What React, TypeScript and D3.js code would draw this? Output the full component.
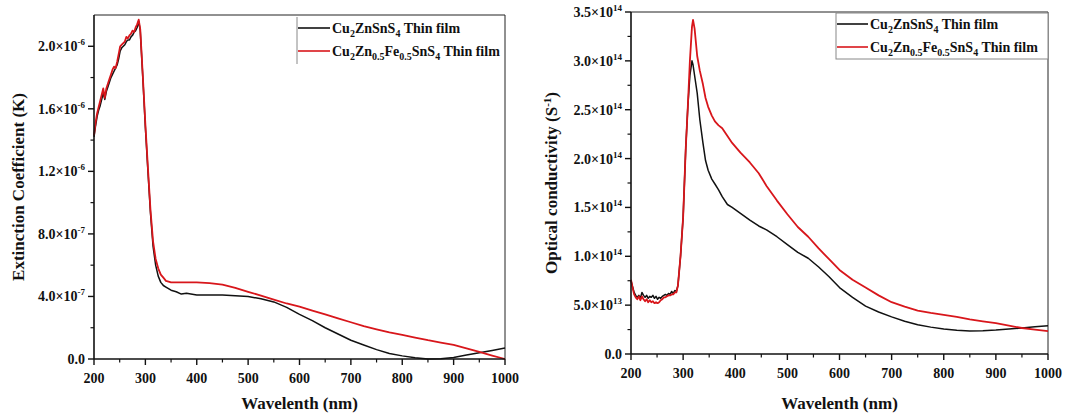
import React from "react";
import * as d3 from "d3";

// ---- Extinction coefficient (values in units of 1e-6) ----
const wlK = [200, 203, 206, 209, 212, 215, 218, 221, 224, 227, 230, 233, 236, 239, 242, 245, 248, 251, 254, 257, 260, 263, 266, 269, 272, 275, 278, 281, 284, 287, 290, 295, 300, 305, 310, 315, 320, 325, 330, 335, 340, 350, 360, 370, 380, 400, 425, 450, 475, 500, 525, 550, 575, 600, 625, 650, 675, 700, 725, 750, 775, 800, 825, 850, 875, 900, 925, 950, 975, 1000];
const kCzts = [1.42, 1.49, 1.55, 1.59, 1.62, 1.66, 1.70, 1.66, 1.71, 1.74, 1.77, 1.80, 1.82, 1.84, 1.86, 1.88, 1.92, 1.97, 1.99, 2.00, 2.01, 2.03, 2.04, 2.04, 2.06, 2.07, 2.09, 2.10, 2.12, 2.16, 2.10, 1.80, 1.48, 1.20, 0.93, 0.72, 0.60, 0.53, 0.49, 0.47, 0.46, 0.44, 0.43, 0.415, 0.42, 0.41, 0.41, 0.41, 0.405, 0.40, 0.385, 0.365, 0.33, 0.285, 0.245, 0.20, 0.16, 0.12, 0.09, 0.06, 0.035, 0.02, 0.008, 0.0, 0.002, 0.01, 0.025, 0.04, 0.055, 0.07];
const kCzfts = [1.43, 1.51, 1.57, 1.61, 1.65, 1.69, 1.73, 1.67, 1.73, 1.76, 1.79, 1.82, 1.85, 1.87, 1.86, 1.90, 1.95, 2.00, 2.01, 2.02, 2.03, 2.06, 2.05, 2.07, 2.08, 2.10, 2.09, 2.12, 2.14, 2.17, 2.11, 1.81, 1.50, 1.22, 0.95, 0.75, 0.64, 0.58, 0.54, 0.52, 0.50, 0.49, 0.49, 0.49, 0.49, 0.49, 0.485, 0.475, 0.455, 0.43, 0.405, 0.38, 0.355, 0.335, 0.31, 0.285, 0.26, 0.235, 0.21, 0.19, 0.17, 0.155, 0.137, 0.12, 0.105, 0.09, 0.068, 0.045, 0.022, 0.0];
const kTicks = [0, 0.4, 0.8, 1.2, 1.6, 2.0];
const kTickLabels: [string, string][] = [["0.0", ""], ["4.0×10", "-7"], ["8.0×10", "-7"], ["1.2×10", "-6"], ["1.6×10", "-6"], ["2.0×10", "-6"]];
const kMinor = [0.2, 0.6, 1.0, 1.4, 1.8];

// ---- Optical conductivity (values in units of 1e13) ----
const wlS = [200, 203, 206, 209, 212, 215, 218, 221, 224, 227, 230, 233, 236, 239, 242, 245, 248, 251, 254, 257, 260, 263, 266, 269, 272, 275, 278, 281, 284, 287, 290, 295, 300, 305, 309, 313, 317, 319, 322, 327, 332, 338, 343, 348, 355, 361, 368, 375, 385, 394, 410, 428, 445, 460, 480, 500, 520, 540, 560, 580, 600, 625, 650, 675, 700, 725, 750, 775, 800, 825, 850, 875, 900, 925, 950, 975, 1000];
const sCzts = [7.5, 6.9, 6.3, 6.0, 5.8, 6.0, 5.7, 6.3, 6.0, 5.8, 6.0, 5.7, 5.9, 5.8, 6.0, 5.7, 5.9, 5.6, 5.8, 5.7, 5.9, 6.0, 6.1, 6.0, 6.2, 6.1, 6.4, 6.2, 6.5, 6.4, 7.0, 10.0, 14.0, 21.0, 25.3, 28.5, 30.0, 29.6, 28.5, 26.7, 24.0, 21.6, 19.8, 18.8, 17.9, 17.4, 16.8, 16.1, 15.3, 15.0, 14.4, 13.7, 13.1, 12.7, 12.0, 11.2, 10.4, 9.8, 8.9, 7.9, 6.8, 5.8, 4.9, 4.3, 3.8, 3.35, 3.0, 2.75, 2.55, 2.43, 2.35, 2.38, 2.45, 2.55, 2.66, 2.78, 2.9];
const sCzfts = [7.6, 6.8, 6.1, 5.8, 5.6, 5.9, 5.5, 5.9, 5.6, 5.4, 5.6, 5.3, 5.5, 5.3, 5.4, 5.2, 5.3, 5.2, 5.3, 5.5, 5.6, 5.8, 5.8, 5.9, 6.0, 6.0, 6.1, 6.1, 6.3, 6.3, 7.0, 10.0, 14.0, 21.0, 25.3, 30.0, 33.5, 34.2, 33.3, 30.5, 29.0, 27.6, 26.2, 25.3, 24.4, 23.8, 23.4, 23.1, 22.3, 21.6, 20.6, 19.6, 18.5, 17.2, 15.7, 14.3, 13.0, 12.0, 10.8, 9.7, 8.6, 7.6, 6.8, 6.0, 5.3, 4.85, 4.45, 4.2, 4.0, 3.8, 3.55, 3.35, 3.15, 2.9, 2.66, 2.5, 2.35];
const sTicks = [0, 5, 10, 15, 20, 25, 30, 35];
const sTickLabels: [string, string][] = [["0.0", ""], ["5.0×10", "13"], ["1.0×10", "14"], ["1.5×10", "14"], ["2.0×10", "14"], ["2.5×10", "14"], ["3.0×10", "14"], ["3.5×10", "14"]];
const sMinor = [2.5, 7.5, 12.5, 17.5, 22.5, 27.5, 32.5];

const xTicks = [200, 300, 400, 500, 600, 700, 800, 900, 1000];
const xMinor = [250, 350, 450, 550, 650, 750, 850, 950];

const BLACK = "#111111";
const RED = "#d8161b";
const FONT = "'Liberation Serif', 'Times New Roman', serif";

// chemical formula: pairs of [normal text, subscript]
function Formula({ parts }: { parts: [string, string][] }) {
  const out: React.ReactNode[] = [];
  let lowered = false;
  parts.forEach(([t, s], i) => {
    out.push(<tspan key={"t" + i} dy={lowered ? -4 : 0}>{t}</tspan>);
    lowered = false;
    if (s) {
      out.push(<tspan key={"s" + i} dy={4} fontSize={10}>{s}</tspan>);
      lowered = true;
    }
  });
  return <>{out}</>;
}

const czts: [string, string][] = [["Cu", "2"], ["ZnSnS", "4"], [" Thin film", ""]];
const czfts: [string, string][] = [["Cu", "2"], ["Zn", "0.5"], ["Fe", "0.5"], ["SnS", "4"], [" Thin film", ""]];

function Panel(props: any) {
  const { wl, black, red, left, right, top, bottom, yMax, ticks, labels, minor, yTitle, yTitleX, legend } = props;
  const x = d3.scaleLinear().domain([200, 1000]).range([left, right]);
  const y = d3.scaleLinear().domain([0, yMax]).range([bottom, top]);
  const line = (vals: number[]) =>
    d3.line<number>().x((_, i) => x(wl[i])).y((d) => y(d))(vals) || "";

  return (
    <g fontFamily={FONT} fontWeight="bold">
      {/* frame */}
      <line x1={left} x2={right} y1={top} y2={top} stroke="#222" strokeWidth={1} />
      <line x1={right} x2={right} y1={top} y2={bottom} stroke="#222" strokeWidth={1} />

      {/* legend */}
      {legend.box ? (
        <rect x={legend.x} y={legend.y} width={right - legend.x} height={46} fill="white" stroke="#888" strokeWidth={1} />
      ) : (
        <line x1={legend.x} x2={legend.x} y1={legend.y} y2={legend.y + 47} stroke="#888" strokeWidth={1} />
      )}
      {[
        { c: BLACK, f: czts },
        { c: RED, f: czfts },
      ].map((r, i) => (
        <g key={i}>
          <line x1={legend.x + 1} x2={legend.x + legend.len} y1={legend.y + 11 + i * 23} y2={legend.y + 11 + i * 23} stroke={r.c} strokeWidth={1.6} />
          <text x={legend.x + legend.len + 2} y={legend.y + 16 + i * 23} fontSize={14} fill="#111">
            <Formula parts={r.f} />
          </text>
        </g>
      ))}

      {/* data */}
      <path d={line(black)} fill="none" stroke={BLACK} strokeWidth={1.5} strokeLinejoin="round" />
      <path d={line(red)} fill="none" stroke={RED} strokeWidth={1.8} strokeLinejoin="round" />

      {/* axes */}
      <line x1={left} x2={right} y1={bottom} y2={bottom} stroke="#111" strokeWidth={1.6} />
      <line x1={left} x2={left} y1={top} y2={bottom} stroke="#111" strokeWidth={1.6} />
      {xTicks.map((t) => (
        <g key={"x" + t}>
          <line x1={x(t)} x2={x(t)} y1={bottom} y2={bottom + 6} stroke="#111" strokeWidth={1.4} />
          <text x={x(t)} y={bottom + 24} textAnchor="middle" fontSize={14} fill="#111">{t}</text>
        </g>
      ))}
      {xMinor.map((t) => (
        <line key={"xm" + t} x1={x(t)} x2={x(t)} y1={bottom} y2={bottom + 3.5} stroke="#111" strokeWidth={1.2} />
      ))}
      {ticks.map((t: number, i: number) => (
        <g key={"y" + t}>
          <line x1={left - 6} x2={left} y1={y(t)} y2={y(t)} stroke="#111" strokeWidth={1.4} />
          <text x={left - 9} y={y(t) + 5} textAnchor="end" fontSize={14} fill="#111">
            {labels[i][0]}
            {labels[i][1] ? <tspan dy={-6} fontSize={9}>{labels[i][1]}</tspan> : null}
          </text>
        </g>
      ))}
      {minor.map((t: number) => (
        <line key={"ym" + t} x1={left - 3.5} x2={left} y1={y(t)} y2={y(t)} stroke="#111" strokeWidth={1.2} />
      ))}

      {/* titles */}
      <text x={(left + right) / 2} y={409} textAnchor="middle" fontSize={17} fill="#111">Wavelenth (nm)</text>
      <text transform={`translate(${yTitleX},${(top + bottom) / 2}) rotate(-90)`} textAnchor="middle" fontSize={17} fill="#111">
        {yTitle}
      </text>
    </g>
  );
}

export default function App() {
  return (
    <svg width={1065} height={415} style={{ position: "absolute", left: 0, top: 0, background: "white" }}>
      <rect width={1065} height={415} fill="white" />
      <Panel
        wl={wlK}
        black={kCzts}
        red={kCzfts}
        left={94}
        right={505}
        top={15}
        bottom={359}
        yMax={2.2}
        ticks={kTicks}
        labels={kTickLabels}
        minor={kMinor}
        yTitleX={24}
        yTitle={<tspan>Extinction Coefficient (K)</tspan>}
        legend={{ x: 297, y: 17, len: 33, box: false }}
      />
      <Panel
        wl={wlS}
        black={sCzts}
        red={sCzfts}
        left={631}
        right={1048}
        top={12}
        bottom={354}
        yMax={35}
        ticks={sTicks}
        labels={sTickLabels}
        minor={sMinor}
        yTitleX={557}
        yTitle={<><tspan>Optical conductivity (S</tspan><tspan dy={-6} fontSize={11}>-1</tspan><tspan dy={6}>)</tspan></>}
        legend={{ x: 836, y: 13, len: 32, box: true }}
      />
    </svg>
  );
}
